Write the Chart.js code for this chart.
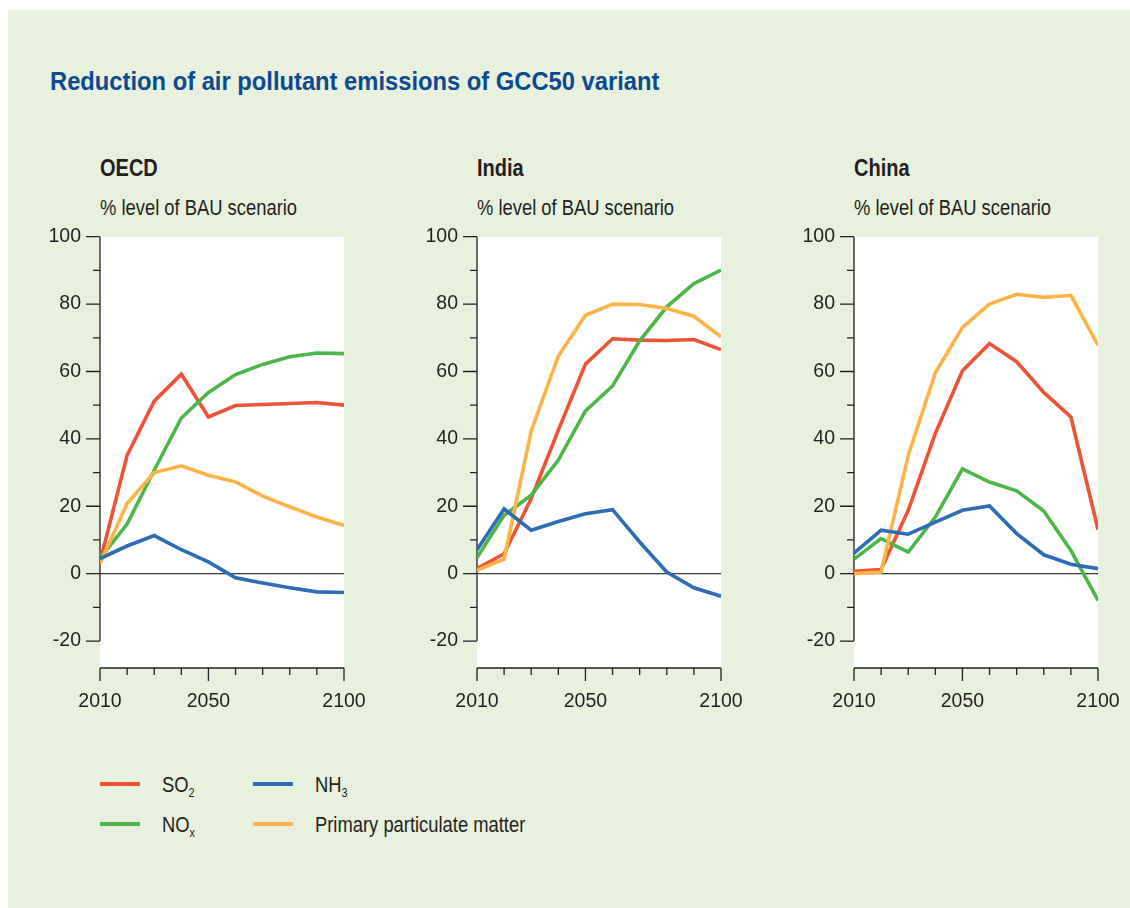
<!DOCTYPE html>
<html>
<head>
<meta charset="utf-8">
<script src="https://cdn.jsdelivr.net/npm/chart.js@4/dist/chart.umd.min.js"></script>
<style>
  body { margin: 0; width: 1130px; height: 908px; background: #fff; position: relative; overflow: hidden;
         font-family: "Liberation Sans", Arial, sans-serif; color: #231f20; }
  #bg { position: absolute; left: 8px; top: 10px; right: 0; bottom: 0; background: #e8f1de; }
  .txt { position: absolute; white-space: nowrap; line-height: 1; transform-origin: left top; }
  #title { left: 50px; top: 69px; font-size: 25.5px; font-weight: bold; color: #0b4a8f; transform: scaleX(0.931); }
  .head { font-size: 23px; font-weight: bold; top: 157px; transform: scaleX(0.87); }
  .unit { font-size: 22px; top: 197px; transform: scaleX(0.835); }
  .panel { position: absolute; top: 220px; }
  .leg { position: absolute; height: 4px; width: 40px; }
  .legtxt { font-size: 22px; transform: scaleX(0.835); }
  sub { font-size: 13px; vertical-align: -5px; line-height: 0; }
</style>
</head>
<body>
<div id="bg"></div>
<div class="txt" id="title">Reduction of air pollutant emissions of GCC50 variant</div>

<div class="txt head" style="left:100px">OECD</div>
<div class="txt head" style="left:477px">India</div>
<div class="txt head" style="left:854px">China</div>
<div class="txt unit" style="left:100px">% level of BAU scenario</div>
<div class="txt unit" style="left:477px">% level of BAU scenario</div>
<div class="txt unit" style="left:854px">% level of BAU scenario</div>

<div class="panel" style="left:40px;width:329px;height:500px"><canvas id="oecd"></canvas></div>
<div class="panel" style="left:417.3px;width:329px;height:500px"><canvas id="india"></canvas></div>
<div class="panel" style="left:794px;width:329px;height:500px"><canvas id="china"></canvas></div>

<div class="leg" style="left:100px;top:782px;background:#ee5336"></div>
<div class="txt legtxt" style="left:162px;top:774px">SO<sub>2</sub></div>
<div class="leg" style="left:100px;top:822px;background:#4cb648"></div>
<div class="txt legtxt" style="left:162px;top:814px">NO<sub>x</sub></div>
<div class="leg" style="left:253px;top:782px;background:#2d6db5"></div>
<div class="txt legtxt" style="left:315px;top:774px">NH<sub>3</sub></div>
<div class="leg" style="left:253px;top:822px;background:#fdb345"></div>
<div class="txt legtxt" style="left:315px;top:814px">Primary particulate matter</div>

<script>
const years = [2010, 2020, 2030, 2040, 2050, 2060, 2070, 2080, 2090, 2100];
const yTicks = [-20, -10, 0, 10, 20, 30, 40, 50, 60, 70, 80, 90, 100];
const xLabels = [2010, 2050, 2100];

// OECD
const oecdSO2 = [3.5, 35.1, 51.2, 59.2, 46.5, 49.9, 50.2, 50.5, 50.8, 50.0];
const oecdNOx = [4.5, 14.7, 30.7, 46.2, 53.8, 59.1, 62.1, 64.4, 65.5, 65.3];
const oecdNH3 = [4.5, 8.2, 11.3, 7.1, 3.5, -1.2, -2.8, -4.2, -5.4, -5.6];
const oecdPPM = [3.0, 20.8, 30.0, 32.0, 29.2, 27.2, 23.0, 19.8, 16.8, 14.3];
// India
const indiaSO2 = [1.5, 5.9, 22.3, 42.6, 62.2, 69.7, 69.3, 69.2, 69.5, 66.5];
const indiaNOx = [4.8, 17.3, 23.3, 33.7, 48.3, 55.7, 69.1, 79.2, 86.1, 90.1];
const indiaNH3 = [7.1, 19.2, 12.9, 15.5, 17.8, 19.0, 9.4, 0.5, -4.2, -6.7];
const indiaPPM = [1.0, 4.3, 42.4, 64.6, 76.7, 80.0, 79.9, 78.7, 76.4, 70.3];
// China
const chinaSO2 = [0.7, 1.2, 18.8, 41.6, 60.2, 68.3, 62.9, 53.8, 46.5, 13.1];
const chinaNOx = [4.3, 10.4, 6.4, 16.8, 31.1, 27.2, 24.6, 18.6, 6.9, -7.9];
const chinaNH3 = [6.1, 12.9, 11.7, 15.3, 18.8, 20.1, 11.9, 5.6, 2.8, 1.5];
const chinaPPM = [0.0, 0.5, 35.1, 59.6, 73.1, 80.0, 82.9, 82.0, 82.6, 67.8];

const colors = { so2: "#ee5336", nox: "#4cb648", nh3: "#2d6db5", ppm: "#fdb345" };
const axisColor = "#231f20";

Chart.defaults.font.family = '"Liberation Sans", Arial, sans-serif';
Chart.defaults.font.size = 19.5;
Chart.defaults.color = axisColor;

// white plot area + hand-drawn axis lines and ticks (major/minor lengths differ)
const axisMarks = {
  id: "axisMarks",
  beforeDraw(chart) {
    const a = chart.chartArea;
    const ctx = chart.ctx;
    ctx.save();
    ctx.fillStyle = "#fff";
    ctx.fillRect(a.left, a.top, a.right - a.left, a.bottom - a.top);
    ctx.restore();
  },
  beforeDatasetsDraw(chart) {
    const a = chart.chartArea;
    const x = chart.scales.x;
    const y = chart.scales.y;
    const ctx = chart.ctx;
    ctx.save();
    ctx.strokeStyle = axisColor;
    ctx.lineWidth = 1.3;
    ctx.beginPath();
    // y axis line from 100 to -20
    ctx.moveTo(a.left, y.getPixelForValue(100));
    ctx.lineTo(a.left, y.getPixelForValue(-20));
    yTicks.forEach((v) => {
      const len = v % 20 === 0 ? 14 : 7;
      const py = y.getPixelForValue(v);
      ctx.moveTo(a.left - len, py);
      ctx.lineTo(a.left, py);
    });
    // x axis
    ctx.moveTo(x.getPixelForValue(2010), a.bottom);
    ctx.lineTo(x.getPixelForValue(2100), a.bottom);
    years.forEach((yr) => {
      const len = xLabels.includes(yr) ? 13 : 7;
      const px = x.getPixelForValue(yr);
      ctx.moveTo(px, a.bottom);
      ctx.lineTo(px, a.bottom + len);
    });
    ctx.stroke();
    // zero line
    ctx.strokeStyle = "#3a3a3a";
    ctx.lineWidth = 1.2;
    ctx.beginPath();
    ctx.moveTo(x.getPixelForValue(2010), y.getPixelForValue(0));
    ctx.lineTo(x.getPixelForValue(2100), y.getPixelForValue(0));
    ctx.stroke();
    ctx.restore();
  },
};

function series(values, color) {
  return {
    data: values.map((v, i) => ({ x: years[i], y: v })),
    borderColor: color,
    backgroundColor: color,
    borderWidth: 3.6,
    pointRadius: 0,
    tension: 0,
    fill: false,
  };
}

function makeChart(id, so2, nox, nh3, ppm) {
  const ctx = document.getElementById(id).getContext("2d");
  return new Chart(ctx, {
    type: "line",
    data: {
      datasets: [
        series(nh3, colors.nh3),
        series(ppm, colors.ppm),
        series(nox, colors.nox),
        series(so2, colors.so2),
      ],
    },
    options: {
      responsive: true,
      maintainAspectRatio: false,
      animation: false,
      layout: { padding: { top: 16.7, right: 25, bottom: 0, left: 0 } },
      plugins: { legend: { display: false }, tooltip: { enabled: false } },
      scales: {
        x: {
          type: "linear",
          min: 2010,
          max: 2100,
          afterBuildTicks: (scale) => {
            scale.ticks = xLabels.map((v) => ({ value: v }));
          },
          afterFit: (scale) => {
            scale.height = 52;
            scale.paddingLeft = 0;
            scale.paddingRight = 0;
          },
          grid: { display: false, drawTicks: false },
          border: { display: false },
          ticks: {
            padding: 22,
            autoSkip: false,
            maxRotation: 0,
            callback: (v) => String(v),
          },
        },
        y: {
          min: -28,
          max: 100,
          afterBuildTicks: (scale) => {
            scale.ticks = yTicks.map((v) => ({ value: v }));
          },
          afterFit: (scale) => {
            scale.width = 60;
            scale.paddingTop = 0;
            scale.paddingBottom = 0;
          },
          grid: { display: false, drawTicks: false },
          border: { display: false },
          ticks: {
            padding: 19,
            autoSkip: false,
            callback: (v) => (v % 20 === 0 ? String(v) : ""),
          },
        },
      },
    },
    plugins: [axisMarks],
  });
}

makeChart("oecd", oecdSO2, oecdNOx, oecdNH3, oecdPPM);
makeChart("india", indiaSO2, indiaNOx, indiaNH3, indiaPPM);
makeChart("china", chinaSO2, chinaNOx, chinaNH3, chinaPPM);
</script>
</body>
</html>
